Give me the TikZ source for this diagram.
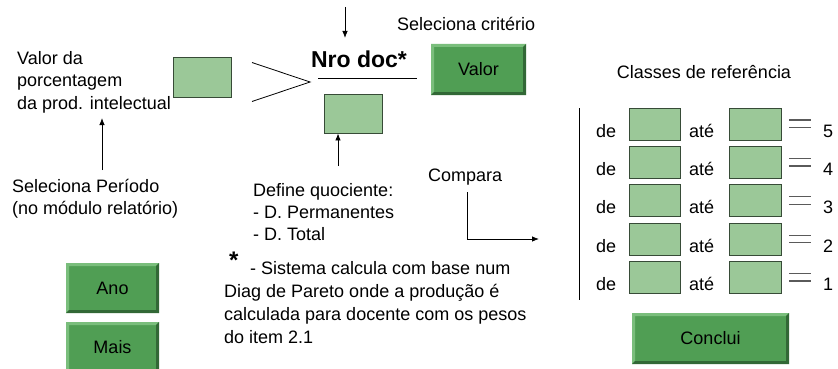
\documentclass[tikz,border=0pt]{standalone}
\usepackage{fontspec}
\setmainfont{Liberation Sans}
\usetikzlibrary{arrows.meta}
\definecolor{btnfill}{RGB}{80,158,84}
\definecolor{btnlight}{RGB}{122,190,124}
\definecolor{btndark}{RGB}{50,104,54}
\definecolor{boxfill}{RGB}{155,200,152}
\definecolor{boxline}{RGB}{55,75,55}
\definecolor{eqgray}{RGB}{90,90,90}
\tikzset{
  lbl/.style={inner sep=0pt, font=\fontsize{18}{22}\selectfont, align=left, anchor=base west},
  field/.style={draw=boxline, fill=boxfill, line width=0.9pt, inner sep=0pt},
  button/.style={fill=btnfill, inner sep=0pt, font=\fontsize{18}{22}\selectfont,
    path picture={
      \fill[btnlight] (path picture bounding box.north west) -- (path picture bounding box.north east)
        -- ([xshift=-3pt,yshift=-3pt]path picture bounding box.north east)
        -- ([xshift=3pt,yshift=-3pt]path picture bounding box.north west)
        -- ([xshift=3pt,yshift=3pt]path picture bounding box.south west)
        -- (path picture bounding box.south west) -- cycle;
      \fill[btndark] (path picture bounding box.south east) -- (path picture bounding box.north east)
        -- ([xshift=-3pt,yshift=-3pt]path picture bounding box.north east)
        -- ([xshift=-3pt,yshift=3pt]path picture bounding box.south east)
        -- ([xshift=3pt,yshift=3pt]path picture bounding box.south west)
        -- (path picture bounding box.south west) -- cycle;
    }},
  arr/.style={-{Latex[length=7pt,width=5.5pt]}, line width=0.8pt},
  thinline/.style={line width=0.8pt},
  eqline/.style={draw=eqgray, line width=1.3pt},
}
\begin{document}
\begin{tikzpicture}[x=1pt,y=-1pt]
\useasboundingbox[fill=white] (0,0) rectangle (838,369);

% left part (multi-line labels are placed by the baseline of their last line)
\node[lbl] (valtxt) at (17,109) {Valor da\\porcentagem\\da prod. intelectual};
\node[field, minimum width=58pt, minimum height=40pt] (perc) at (202,77) {};
\coordinate (gtA) at (252,62.5);
\coordinate (gtTip) at (310,82);
\coordinate (gtB) at (252,101.5);
\draw[thinline] (gtA) -- (gtTip) -- (gtB);

\node[inner sep=0pt, anchor=base, font=\fontsize{23}{26}\selectfont\bfseries] (nro) at (359,68) {Nro doc*};
\coordinate (ulA) at (318,78.3);
\coordinate (ulB) at (417,78.3);
\draw[thinline] (ulA) -- (ulB);
\coordinate (topIn) at (345,7);
\coordinate (topTip) at (345,38);
\draw[arr] (topIn) -- (topTip);

\node[field, minimum width=58pt, minimum height=39pt] (quoc) at (353,113.5) {};
\coordinate (defTop) at (338,166);
\draw[arr] (defTop) -- (defTop |- quoc.south);

\node[lbl] (selcrit) at (397,31) {Seleciona critério};
\node[button, minimum width=95pt, minimum height=51pt] (valor) at (478.5,69.5) {Valor};

\coordinate (selBot) at (102,170);
\coordinate (selTop) at (102,118);
\draw[arr] (selBot) -- (selTop);
\node[lbl] (selper) at (12,214) {Seleciona Período\\(no módulo relatório)};

\node[lbl] (defq) at (253,240) {Define quociente:\\- D. Permanentes\\- D. Total};

\node[lbl] (comp) at (428,181) {Compara};
\coordinate (cmpA) at (467.7,192);
\coordinate (cmpB) at (539,239);
\draw[arr] (cmpA) |- (cmpB);

\node[lbl, font=\fontsize{18}{23}\selectfont] (nota) at (224,343) {\makebox[26pt][l]{\hspace{5pt}\raisebox{6pt}{\fontsize{24}{24}\selectfont\bfseries *}}- Sistema calcula com base num\\Diag de Pareto onde a produção é\\calculada para docente com os pesos\\do item 2.1};

\node[button, minimum width=93pt, minimum height=50pt] (ano) at (112.5,288) {Ano};
\node[button, minimum width=93pt, minimum height=50pt] (mais) at (112.5,347) {Mais};

% right part
\node[inner sep=0pt, anchor=base, font=\fontsize{18}{22}\selectfont] (classes) at (704,78) {Classes de referência};
\coordinate (vlA) at (579.3,108);
\coordinate (vlB) at (579.3,300);
\draw[line width=1pt] (vlA) -- (vlB);
\foreach \i/\n in {0/5,1/4,2/3,3/2,4/1} {
  \pgfmathsetmacro\cy{124+38.4*\i}
  \node[lbl] (de\n) at (596,\cy+13) {de};
  \node[field, minimum width=51pt, minimum height=32pt] (lo\n) at (654.5,\cy) {};
  \node[lbl] (ate\n) at (689,\cy+13) {até};
  \node[field, minimum width=52pt, minimum height=32pt] (hi\n) at (755,\cy) {};
  \draw[eqline] (789,\cy-4) -- (811,\cy-4);
  \draw[eqline] (789,\cy+3.5) -- (811,\cy+3.5);
  \node[lbl] (num\n) at (823,\cy+13) {\n};
}
\node[button, minimum width=157pt, minimum height=51pt] (conclui) at (710.5,338.5) {Conclui};
\end{tikzpicture}
\end{document}
